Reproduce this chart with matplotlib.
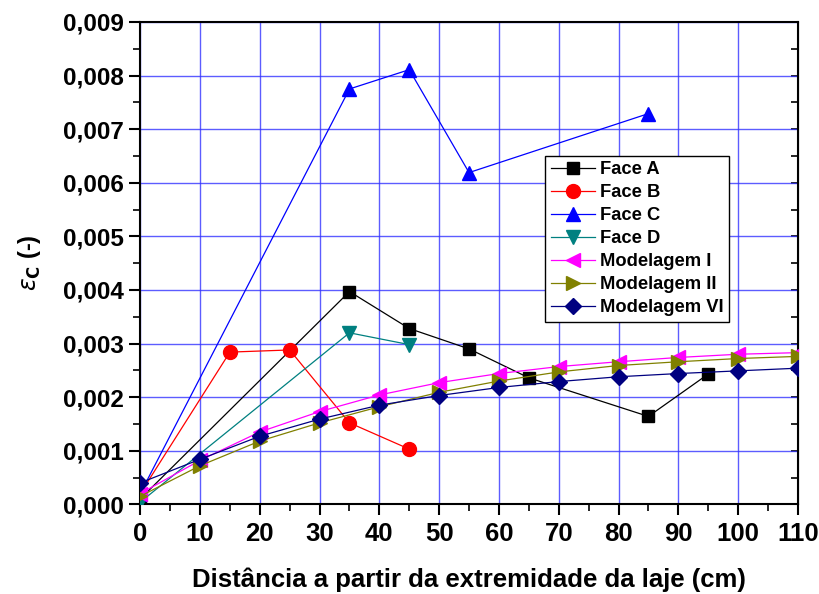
import matplotlib
matplotlib.use("Agg")
import matplotlib.pyplot as plt
from matplotlib.ticker import MultipleLocator, FuncFormatter

# Data
x_faceA = [0, 35, 45, 55, 65, 85, 95]
y_faceA = [0.00010, 0.00397, 0.00328, 0.00290, 0.00236, 0.00164, 0.00243]
x_faceB = [0, 15, 25, 35, 45]
y_faceB = [0.00020, 0.00284, 0.00288, 0.00152, 0.00103]
x_faceC = [0, 35, 45, 55, 85]
y_faceC = [0.00020, 0.00775, 0.00811, 0.00619, 0.00729]
x_faceD = [0, 35, 45]
y_faceD = [0.00004, 0.00320, 0.00298]
x_mod = [0, 10, 20, 30, 40, 50, 60, 70, 80, 90, 100, 110]
y_mod1 = [0.00020, 0.00082, 0.00135, 0.00173, 0.00204, 0.00227, 0.00244, 0.00257, 0.00266, 0.00274, 0.00280, 0.00283]
y_mod2 = [0.00015, 0.00072, 0.00118, 0.00152, 0.00182, 0.00209, 0.00230, 0.00247, 0.00259, 0.00266, 0.00272, 0.00276]
y_mod6 = [0.00040, 0.00084, 0.00127, 0.00159, 0.00185, 0.00203, 0.00218, 0.00229, 0.00238, 0.00244, 0.00249, 0.00254]

labels = ["Face A", "Face B", "Face C", "Face D", "Modelagem I", "Modelagem II", "Modelagem VI"]
x_ticks = [0, 10, 20, 30, 40, 50, 60, 70, 80, 90, 100, 110]
y_ticks = [0.000, 0.001, 0.002, 0.003, 0.004, 0.005, 0.006, 0.007, 0.008, 0.009]

fig = plt.figure(figsize=(8.2, 5.94), dpi=100)
ax = fig.add_axes([0.171, 0.151, 0.802, 0.812])

lw = 0.9
ax.plot(x_faceA, y_faceA, '-s', color='black', lw=lw, ms=8, label=labels[0], zorder=3)
ax.plot(x_faceB, y_faceB, '-o', color='red', lw=lw, ms=10, label=labels[1], zorder=3)
ax.plot(x_faceC, y_faceC, '-^', color='blue', lw=lw, ms=10, label=labels[2], zorder=3)
ax.plot(x_faceD, y_faceD, '-v', color='#008080', lw=lw, ms=10, label=labels[3], zorder=3)
ax.plot(x_mod, y_mod1, '-<', color='magenta', lw=lw, ms=10, label=labels[4], zorder=3)
ax.plot(x_mod, y_mod2, '->', color='#808000', lw=lw, ms=10, label=labels[5], zorder=3)
ax.plot(x_mod, y_mod6, '-D', color='#000080', lw=lw, ms=8, label=labels[6], zorder=3)

ax.set_xlim(0, 110)
ax.set_ylim(0, 0.009)
ax.set_xticks(x_ticks)
ax.set_yticks(y_ticks)
ax.xaxis.set_minor_locator(MultipleLocator(5))
ax.yaxis.set_minor_locator(MultipleLocator(0.0005))
ax.yaxis.set_major_formatter(FuncFormatter(lambda v, p: f"{v:.3f}".replace('.', ',')))
ax.set_xticklabels([str(t) for t in x_ticks])

ax.grid(True, which='major', color='#3333ff', lw=1.0, alpha=0.8, zorder=0)
ax.set_axisbelow(True)

ax.tick_params(axis='both', which='major', direction='out', length=8, width=1.5,
               top=False, right=False)
ax.tick_params(axis='both', which='minor', direction='out', length=5, width=1.2,
               top=False, right=False)
ax.tick_params(axis='y', labelsize=17.5, pad=4)
ax.tick_params(axis='x', labelsize=18.5, pad=5)
for lab in ax.get_yticklabels():
    lab.set_fontweight('bold')
    lab.set_family(['Liberation Sans', 'DejaVu Sans'])
for lab in ax.get_xticklabels():
    lab.set_fontweight('bold')
    lab.set_family(['Liberation Sans', 'DejaVu Sans'])

# right axis inner ticks
axr = ax.secondary_yaxis('right')
axr.set_yticks(y_ticks)
axr.yaxis.set_minor_locator(MultipleLocator(0.0005))
axr.tick_params(axis='y', which='both', direction='in', labelright=False, length=5, width=1.2)
axr.set_yticklabels([])

for s in ax.spines.values():
    s.set_linewidth(1.5)

ax.set_xlabel("Distância a partir da extremidade da laje (cm)", fontsize=18.5, fontweight='bold',
              family=['Liberation Sans', 'DejaVu Sans'], labelpad=15)
ax.set_ylabel(r"$\varepsilon_{\mathbf{C}}$ (-)", fontsize=17, fontweight='bold',
              family=['Liberation Sans', 'DejaVu Sans'], labelpad=14)

leg = ax.legend(loc='upper left', bbox_to_anchor=(0.616, 0.723), frameon=True, fancybox=False,
                edgecolor='black', framealpha=1, borderpad=0.3, labelspacing=0.33,
                handlelength=2.4, handletextpad=0.3, borderaxespad=0,
                prop={'family': ['Liberation Sans', 'DejaVu Sans'], 'weight': 'bold', 'size': 13.2})
leg.get_frame().set_linewidth(1.0)

fig.savefig("out.png", dpi=100)
